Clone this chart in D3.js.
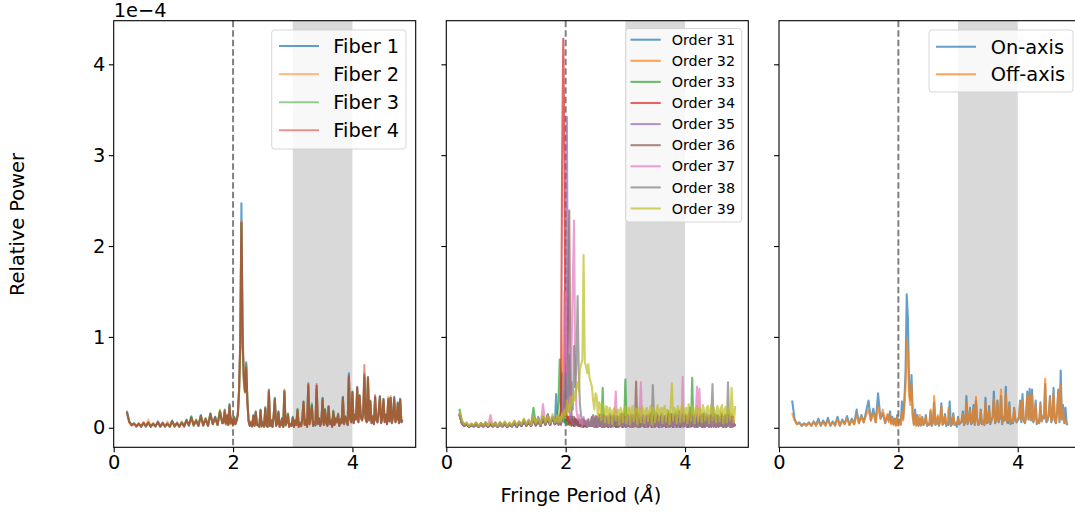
<!DOCTYPE html>
<html lang="en">
  <head>
    <meta charset="UTF-8" />
    <title>fringe period</title>
    <style>
      body {
        margin: 0;
        background: #fff;
      }
      svg text {
        font-family: "DejaVu Sans", sans-serif;
        fill: #000;
      }
    </style>
  </head>
  <body>
    <svg width="1075" height="512"></svg>

    <script src="https://d3js.org/d3.v7.min.js"></script>
    <script>
      // fringe period grid (Å): coarse below the peak, finer above it
      const period = [
        0.22, 0.26, 0.30, 0.34, 0.38, 0.42, 0.46, 0.50, 0.54, 0.58, 0.62, 0.66, 0.70, 0.74, 0.78, 0.82, 0.86, 0.90, 0.94, 0.98, 1.02, 1.06, 1.10, 1.14, 1.18, 1.22, 1.26, 1.30, 1.34, 1.38, 1.42, 1.46, 1.50, 1.54, 1.58, 1.62, 1.66, 1.70, 1.74, 1.78, 1.82,
        1.84, 1.86, 1.88, 1.90, 1.92, 1.94, 1.96, 1.98, 2.00, 2.02, 2.04, 2.06, 2.08, 2.10, 2.12, 2.14, 2.16, 2.18, 2.20, 2.22, 2.24, 2.26, 2.28, 2.30, 2.32, 2.34, 2.36, 2.38, 2.40,
        2.42, 2.44, 2.46, 2.48, 2.50, 2.52, 2.54, 2.56, 2.58, 2.60,
        2.62, 2.64, 2.66, 2.68, 2.70, 2.72, 2.74, 2.76, 2.78, 2.80,
        2.82, 2.84, 2.86, 2.88, 2.90, 2.92, 2.94, 2.96, 2.98, 3.00,
        3.02, 3.04, 3.06, 3.08, 3.10, 3.12, 3.14, 3.16, 3.18, 3.20,
        3.22, 3.24, 3.26, 3.28, 3.30, 3.32, 3.34, 3.36, 3.38, 3.40,
        3.42, 3.44, 3.46, 3.48, 3.50, 3.52, 3.54, 3.56, 3.58, 3.60,
        3.62, 3.64, 3.66, 3.68, 3.70, 3.72, 3.74, 3.76, 3.78, 3.80,
        3.82, 3.84, 3.86, 3.88, 3.90, 3.92, 3.94, 3.96, 3.98, 4.00,
        4.02, 4.04, 4.06, 4.08, 4.10, 4.12, 4.14, 4.16, 4.18, 4.20,
        4.22, 4.24, 4.26, 4.28, 4.30, 4.32, 4.34, 4.36, 4.38, 4.40,
        4.42, 4.44, 4.46, 4.48, 4.50, 4.52, 4.54, 4.56, 4.58, 4.60,
        4.62, 4.64, 4.66, 4.68, 4.70, 4.72, 4.74, 4.76, 4.78, 4.80,
        4.82, 4.84,
      ];

      // relative power, in units of 1e-6
      const fiber1 = [
        18,7,3,5,1,4,2,5,1,6,2,4,1,7,2,5,1,4,2,8,1,5,2,6,1,9,2,12,3,8,2,14,3,10,2,16,4,12,3,18,5,
        6,20,4,14,3,26,5,10,3,12,4,8,15,40,90,247,95,55,40,72,30,8,2,6,1,14,2,18,3,
        3,1,20,2,6,1,22,3,1,42, 2,8,1,12,33,2,5,18,1,3, 10,1,41,3,6,15,1,4,2,12, 1,8,3,20,1,5,2,9,29,3,
        8,1,49,4,12,25,2,6,3,46, 4,10,2,7,33,3,20,5,2,24, 4,8,1,18,3,10,6,15,2,9, 5,34,4,12,8,3,60,10,6,40,
        5,14,9,45,6,36,12,8,15,55, 10,6,56,8,30,5,12,4,34,8, 6,18,35,5,10,32,6,14,4,30, 7,33,5,12,34,6,9,28,5,32, 6,8,
      ];
      const fiber2 = [
        16,6,2,4,2,5,1,6,2,9,1,5,2,6,1,4,2,7,1,6,2,4,1,7,2,8,3,10,2,9,3,12,2,11,3,15,5,10,4,20,6,
        5,18,3,15,4,24,6,12,2,10,5,9,14,38,85,228,90,50,38,68,28,6,3,7,2,12,3,16,4,
        4,1,18,2,5,2,20,3,1,40, 3,7,1,14,30,2,6,16,1,4, 9,2,42,3,5,14,1,5,3,10, 2,9,4,18,2,6,1,8,27,4,
        7,2,47,3,11,22,3,5,4,44, 5,9,3,6,30,4,18,6,3,22, 5,7,2,16,4,11,5,14,3,8, 6,32,5,11,9,4,55,11,7,38,
        6,13,10,43,7,34,11,9,16,60, 9,7,54,9,28,6,13,5,32,9, 7,16,33,6,11,30,7,13,5,34, 8,35,6,11,30,7,10,26,6,30, 7,9,
      ];
      const fiber3 = [
        19,7,3,5,2,4,1,5,2,6,1,4,2,6,1,5,2,4,1,7,2,5,1,6,2,8,3,13,2,9,3,13,2,10,3,15,4,12,3,19,5,
        7,19,5,13,4,25,6,11,3,11,5,9,14,39,88,225,92,52,39,70,29,7,3,5,2,13,3,17,4,
        3,2,19,1,6,2,23,2,2,40, 2,9,1,13,32,3,4,17,2,3, 11,1,40,2,7,16,2,4,3,11, 1,8,5,21,2,5,3,9,28,4,
        9,2,45,5,13,27,3,6,2,42, 5,11,3,7,32,4,21,6,3,23, 5,9,2,19,4,11,7,16,3,10, 6,33,5,13,9,4,55,11,7,39,
        6,15,10,44,7,35,13,9,14,58, 11,7,54,9,29,6,13,5,33,9, 7,17,34,6,11,31,7,15,5,32, 8,33,6,13,31,7,10,27,6,31, 7,9,
      ];
      const fiber4 = [
        17,6,3,4,2,5,1,6,2,5,1,5,2,6,1,6,2,5,1,7,2,6,1,5,2,8,3,11,3,7,2,13,3,9,2,15,4,11,3,17,5,
        6,18,5,13,3,24,4,9,3,11,4,8,14,42,95,226,107,58,40,66,28,8,2,6,2,13,2,17,3,
        2,1,19,2,5,1,21,2,1,40, 2,8,1,12,31,2,5,17,1,3, 10,1,39,3,6,14,1,4,2,11, 1,8,3,19,1,5,2,9,28,3,
        8,1,47,4,12,24,2,6,3,48, 4,10,2,7,31,3,19,5,2,23, 4,8,1,17,3,10,6,14,2,9, 5,33,4,12,8,3,57,10,6,39,
        5,14,9,44,6,35,12,8,15,69, 10,6,55,8,29,5,12,4,36,8, 6,18,34,5,10,31,6,14,4,32, 7,33,5,12,33,6,9,27,5,31, 6,8,
      ];

      const order31 = [
        16,6,3,4,1,3,2,4,1,3,2,5,1,4,2,3,1,5,2,4,1,3,2,6,1,5,2,7,3,6,2,8,3,12,4,9,3,14,5,10,4,
        37,8,12,5,20,60,14,6,10,4,8,3,12,5,9,2,6,3,8,2,5,1,6,2,4,1,5,2,6,
        2,4,10,1,3,2,12,5,2,8, 14,3,1,9,2,5,11,1,4,13, 3,2,8,1,6,12,2,4,10,3, 1,14,2,5,9,3,1,11,4,2,
        15,5,2,8,11,3,1,13,2,6, 9,1,4,12,3,2,14,5,1,10, 3,2,13,4,1,11,2,6,15,3, 2,10,4,1,18,3,5,12,2,4,
        14,1,5,22,3,2,11,4,1,15, 2,6,12,3,1,16,4,2,11,5, 2,14,3,1,10,4,2,12,3,5, 15,2,4,9,1,13,3,2,12,4, 2,3,
      ];
      const order32 = [
        14,5,2,4,1,3,1,4,2,3,1,4,2,5,1,3,2,4,1,5,2,4,1,6,2,4,2,8,3,5,2,9,3,7,2,11,4,8,3,10,4,
        6,12,4,15,5,22,80,150,60,14,6,10,3,8,4,6,2,9,3,7,2,5,1,6,2,8,3,5,2,
        3,12,2,5,10,1,4,15,3,2, 11,4,1,13,2,6,9,1,5,14, 2,3,10,1,5,12,2,3,16,4, 1,11,3,2,13,5,1,9,2,4,
        15,3,1,12,4,2,10,5,1,14, 3,2,11,4,1,16,2,5,12,3, 1,10,4,2,14,3,1,13,5,2, 11,3,1,17,4,2,12,3,5,15,
        2,1,13,4,2,11,5,1,16,3, 2,12,4,1,15,3,2,10,5,1, 14,2,4,11,3,1,13,5,2,17, 3,1,12,4,2,15,3,1,16,4, 2,3,
      ];
      const order33 = [
        21,8,3,5,2,4,1,5,2,4,1,6,2,4,1,5,2,6,1,4,2,5,1,7,2,6,3,9,2,8,3,22,4,10,3,12,4,15,5,11,4,
        10,14,30,75,12,8,20,6,9,3,12,5,8,2,7,3,10,4,6,2,8,3,5,1,7,2,6,3,5,
        4,6,14,2,3,12,1,5,10,4, 44,3,2,10,1,5,15,2,4,11, 3,1,13,2,5,9,1,4,2,53, 3,2,12,4,1,10,3,2,15,5,
        1,9,2,4,14,3,1,11,2,5, 16,3,1,12,2,4,10,1,3,14, 2,5,11,1,3,18,4,2,12,1, 4,16,3,2,10,1,5,14,3,2,
        12,4,1,15,3,55,2,6,14,1, 3,12,2,4,15,1,3,11,2,5, 13,1,3,12,4,2,14,1,3,10, 2,4,12,1,3,14,2,5,10,2, 4,3,
      ];
      const order34 = [
        15,5,2,4,1,3,2,4,1,5,2,3,1,4,2,5,1,3,2,6,1,4,2,5,1,6,2,7,3,5,2,9,3,8,2,10,4,9,3,12,4,
        8,6,10,5,12,290,428,300,20,8,12,4,9,3,7,2,10,4,6,2,8,3,5,1,6,2,7,3,4,
        3,4,12,1,2,10,3,5,14,2, 1,9,4,2,12,1,3,11,5,2, 13,3,1,10,2,4,15,1,3,12, 5,2,9,1,3,14,4,2,11,1,
        3,13,2,5,10,1,3,12,2,4, 15,3,1,11,2,5,13,1,3,10, 4,2,12,1,3,15,2,4,11,1, 5,13,2,3,10,1,4,14,2,3,
        12,1,5,16,3,2,11,1,4,13, 2,3,15,1,5,12,2,3,10,1, 4,14,2,3,11,1,5,12,2,3, 10,1,4,14,2,3,11,1,5,12, 2,3,
      ];
      const order35 = [
        14,6,3,4,1,3,2,5,1,4,2,3,1,5,2,4,1,6,2,3,1,5,2,4,1,7,2,6,3,8,2,10,3,7,2,11,4,9,3,12,4,
        6,10,4,8,3,12,30,60,120,342,80,20,8,12,4,9,3,7,2,10,4,6,2,8,3,5,1,6,2,
        5,12,2,4,11,1,3,13,2,5, 10,1,4,12,3,2,14,1,5,9, 2,3,11,1,4,13,2,5,10,1, 3,12,2,4,15,1,3,11,2,5,
        13,1,3,10,2,4,12,1,5,14, 2,3,11,1,4,16,2,5,12,1, 3,13,2,4,10,1,5,15,2,3, 12,1,4,14,2,3,11,1,5,13,
        2,3,15,1,4,12,2,5,14,1, 3,11,2,4,13,1,5,15,2,3, 12,1,4,10,2,3,14,1,5,12, 2,3,13,1,4,15,2,5,10,1, 3,4,
      ];
      const order36 = [
        15,5,2,4,1,4,2,3,1,5,2,4,1,3,2,6,1,4,2,5,1,3,2,6,1,5,3,8,2,7,3,11,2,8,3,10,4,13,3,11,4,
        5,9,3,12,4,8,14,40,20,60,120,239,50,14,8,12,4,9,3,7,2,6,3,8,2,5,1,7,3,
        4,2,10,3,1,12,5,2,9,1, 3,14,4,2,11,1,5,13,2,3, 10,1,4,12,2,5,15,1,3,11, 2,4,13,1,5,10,2,3,51,4,
        1,11,3,2,13,1,4,10,2,5, 12,1,3,14,2,4,11,1,5,13, 2,3,10,1,4,15,2,5,12,1, 3,14,2,4,11,1,5,13,2,3,
        10,1,4,16,2,3,12,1,5,11, 2,4,14,1,3,10,2,5,13,1, 3,12,2,4,15,1,3,11,2,5, 13,1,4,10,2,3,14,1,5,12, 2,4,
      ];
      const order37 = [
        16,6,3,5,2,4,1,6,2,5,1,4,2,14,1,5,2,4,1,6,2,5,1,7,2,6,3,9,3,7,2,12,4,10,3,26,4,14,3,12,5,
        6,12,4,10,5,14,20,100,150,40,18,60,30,90,160,228,70,20,10,14,5,9,3,12,4,8,2,10,3,
        5,3,13,1,4,11,2,5,14,2, 3,10,1,5,12,2,4,9,3,1, 15,40,3,11,1,5,13,2,4,10, 2,3,12,1,5,14,2,4,11,1,
        3,13,50,2,5,12,1,4,14,3, 2,11,1,5,13,2,4,10,1,3, 15,2,5,12,1,4,11,3,2,14, 1,5,10,2,4,13,3,56,2,11,
        1,5,14,2,4,10,3,1,13,45, 2,43,12,1,5,11,3,2,14,1, 4,10,2,5,13,1,3,12,2,4, 11,1,5,14,2,3,12,1,4,11, 2,3,
      ];
      const order38 = [
        15,5,2,4,1,3,2,5,1,4,2,6,1,3,2,5,1,4,2,5,1,4,2,6,1,5,2,8,3,6,2,9,3,7,2,12,3,10,4,11,4,
        7,10,4,13,5,9,12,30,60,20,40,80,35,50,20,90,45,70,145,60,25,12,8,10,4,7,3,9,2,
        4,11,2,3,13,1,5,10,2,4, 14,1,3,11,2,5,9,1,4,13, 2,3,12,1,5,15,2,4,10,1, 3,14,2,5,11,1,4,13,2,3,
        10,1,5,12,2,4,4,14,1,3, 11,2,47,13,1,4,10,2,3,15, 1,5,12,2,4,11,3,1,14,2, 5,10,1,4,13,2,3,15,1,5,
        12,2,4,11,1,3,14,2,5,10, 1,4,13,2,3,12,1,5,11,2, 4,14,48,3,12,1,5,13,2,4, 10,1,3,14,2,50,4,12,1,3, 5,2,
      ];
      const order39 = [
        18,8,4,6,2,5,3,6,2,5,3,6,2,7,3,5,2,6,3,7,2,6,3,8,3,7,4,10,4,9,3,12,5,11,4,14,6,12,5,15,6,
        8,14,6,12,7,16,10,20,14,30,18,25,20,35,25,40,30,45,50,40,65,70,75,190,72,68,60,70,55,
        50,45,30,20,38,35,12,28,25,8, 26,20,6,24,22,5,22,18,4,20, 22,8,18,20,4,22,18,6,20,24, 5,18,22,4,20,24,7,18,21,4,
        22,20,6,24,18,5,20,22,7,18, 24,4,22,20,6,18,25,8,20,22, 5,22,24,7,20,18,4,25,49,8, 22,20,5,24,18,6,22,25,7,20,
        22,5,26,18,8,24,22,5,20,24, 7,22,20,6,25,18,8,22,24,5, 20,25,8,22,18,6,24,20,7,22, 25,5,20,23,6,22,18,8,44,20, 6,24,
      ];

      const onAxis = [
        30,10,4,6,2,5,3,6,2,7,3,10,2,8,3,11,2,7,3,12,2,9,4,13,3,10,4,20,5,14,6,18,30,8,21,6,38,10,16,5,14,
        8,18,5,12,4,10,3,14,5,9,4,29,10,30,60,147,120,45,30,58,15,4,20,3,14,2,10,3,12,
        3,5,14,2,4,3,18,2,6,28, 3,4,12,2,8,27,3,5,15,2, 6,3,29,2,4,16,3,5,1,12, 4,5,7,18,3,6,35,4,8,22,
        4,6,25,3,30,9,3,5,20,4, 7,3,33,5,6,24,4,8,12,40, 5,8,30,6,10,35,4,12,8,45, 6,5,28,4,8,5,22,9,6,8,
        10,30,6,37,8,5,12,40,9,43, 8,42,6,10,30,4,8,5,28,7, 12,10,48,6,8,14,35,6,10,44, 8,5,18,42,6,63,9,25,5,22, 4,3,
      ];
      const offAxis = [
        16,8,4,5,3,4,2,5,3,6,2,7,3,6,2,8,3,6,2,9,3,7,4,10,3,8,4,14,5,12,6,14,20,8,16,6,24,10,20,6,15,
        6,14,4,10,3,8,2,12,4,7,3,18,8,22,45,97,80,35,25,48,12,3,16,2,12,3,14,2,10,
        4,6,12,3,5,4,20,3,5,35, 4,6,14,3,7,24,4,6,13,3, 7,22,5,3,5,14,4,6,3,10, 5,6,8,15,4,7,28,5,8,20,
        5,10,22,4,34,8,4,6,18,5, 8,4,28,6,7,20,5,9,11,32, 6,9,28,7,12,42,5,12,9,38, 7,8,25,5,9,6,20,10,7,10,
        11,28,8,30,9,6,14,35,10,38, 9,36,7,10,26,5,9,6,25,8, 13,12,54,7,10,16,32,7,11,38, 9,6,20,40,7,47,10,20,6,8, 5,4,
      ];

      const fiberLabels = ["Fiber 1", "Fiber 2", "Fiber 3", "Fiber 4"];
      const orderLabels = ["Order 31", "Order 32", "Order 33", "Order 34", "Order 35", "Order 36", "Order 37", "Order 38", "Order 39"];
      const axisLabels = ["On-axis", "Off-axis"];
      const xTicks = [0, 2, 4];
      const yTicks = [0, 1e-4, 2e-4, 3e-4, 4e-4];

      const tab10 = d3.schemeCategory10;

      // layout
      const svg = d3.select("svg");
      const plotTop = 20.7,
        plotBottom = 447.3,
        plotW = 302;
      const fs = 19.4; // 14pt
      const lw = 2.08; // 1.5pt
      const y = d3.scaleLinear().domain([-0.215e-4, 4.48e-4]).range([plotBottom, plotTop]);

      const panels = [
        {
          left: 113.7,
          series: [fiber1, fiber2, fiber3, fiber4],
          labels: fiberLabels,
          colors: tab10.slice(0, 4),
          alphas: [0.7, 0.5, 0.5, 0.5],
          yLabels: true,
          legend: { x: 271.7, y: 30, w: 134.3, h: 119, row0: 46, step: 28.1, l1: 279, l2: 319, tx: 333.3, fs: fs },
        },
        {
          left: 446.3,
          series: [order31, order32, order33, order34, order35, order36, order37, order38, order39],
          labels: orderLabels,
          colors: tab10.slice(0, 9),
          alphas: d3.range(9).map(() => 0.7),
          yLabels: false,
          legend: { x: 625.7, y: 28.5, w: 116, h: 193.5, row0: 39.7, step: 21.1, l1: 630.5, l2: 660.7, tx: 671.7, fs: 14.3 },
        },
        {
          left: 779,
          series: [onAxis, offAxis],
          labels: axisLabels,
          colors: tab10.slice(0, 2),
          alphas: [0.7, 0.7],
          yLabels: false,
          legend: { x: 929, y: 30, w: 144, h: 62, row0: 46.7, step: 27.5, l1: 936, l2: 976, tx: 990.7, fs: fs },
        },
      ];

      panels.forEach((p, i) => {
        const x = d3.scaleLinear().domain([0, 5.06]).range([p.left, p.left + plotW]);
        const g = svg.append("g");

        g.append("clipPath")
          .attr("id", "clip" + i)
          .append("rect")
          .attr("x", p.left)
          .attr("y", plotTop)
          .attr("width", plotW)
          .attr("height", plotBottom - plotTop);

        // shaded region 3-4 Å
        g.append("rect")
          .attr("x", x(3))
          .attr("y", plotTop)
          .attr("width", x(4) - x(3))
          .attr("height", plotBottom - plotTop)
          .attr("fill", "#d9d9d9");

        // reference line at 2 Å
        g.append("line")
          .attr("x1", x(2))
          .attr("x2", x(2))
          .attr("y1", plotTop)
          .attr("y2", plotBottom)
          .attr("stroke", "#808080")
          .attr("stroke-width", 2)
          .attr("stroke-dasharray", "6.5,3");

        const line = d3
          .line()
          .x((d) => x(d[0]))
          .y((d) => y(d[1]));

        g.append("g")
          .attr("clip-path", `url(#clip${i})`)
          .selectAll("path")
          .data(p.series)
          .join("path")
          .attr("d", (s) => line(s.map((v, k) => [period[k], v * 1e-6]).filter((d) => d[0] !== undefined)))
          .attr("fill", "none")
          .attr("stroke", (s, k) => p.colors[k])
          .attr("stroke-opacity", (s, k) => p.alphas[k])
          .attr("stroke-width", lw)
          .attr("stroke-linejoin", "round");

        // axes
        const xAxis = d3.axisBottom(x).tickValues(xTicks).tickFormat(d3.format("d")).tickSize(4.9).tickPadding(3.5);
        g.append("g")
          .attr("transform", `translate(0,${plotBottom})`)
          .call(xAxis)
          .call((a) => a.select(".domain").remove())
          .attr("font-size", fs)
          .attr("font-family", "DejaVu Sans");

        const yAxis = d3
          .axisLeft(y)
          .tickValues(yTicks)
          .tickFormat((d) => (p.yLabels ? Math.round(d * 1e4) : ""))
          .tickSize(4.9)
          .tickPadding(3.5);
        g.append("g")
          .attr("transform", `translate(${p.left},0)`)
          .call(yAxis)
          .call((a) => a.select(".domain").remove())
          .attr("font-size", fs)
          .attr("font-family", "DejaVu Sans");

        g.selectAll(".tick line").attr("stroke", "#000").attr("stroke-width", 1.1);

        // spines
        g.append("rect")
          .attr("x", p.left)
          .attr("y", plotTop)
          .attr("width", plotW)
          .attr("height", plotBottom - plotTop)
          .attr("fill", "none")
          .attr("stroke", "#000")
          .attr("stroke-width", 1.1);

        // legend
        const L = p.legend;
        const leg = g.append("g");
        leg.append("rect")
          .attr("x", L.x)
          .attr("y", L.y)
          .attr("width", L.w)
          .attr("height", L.h)
          .attr("rx", 3)
          .attr("fill", "#fff")
          .attr("fill-opacity", 0.8)
          .attr("stroke", "#ccc")
          .attr("stroke-opacity", 0.8);

        const row = leg
          .selectAll("g.row")
          .data(p.labels)
          .join("g")
          .attr("class", "row")
          .attr("transform", (d, k) => `translate(0,${L.row0 + k * L.step})`);
        row.append("line")
          .attr("x1", L.l1)
          .attr("x2", L.l2)
          .attr("stroke", (d, k) => p.colors[k])
          .attr("stroke-opacity", (d, k) => p.alphas[k])
          .attr("stroke-width", lw);
        row.append("text")
          .attr("x", L.tx)
          .attr("dy", "0.36em")
          .attr("font-size", L.fs)
          .text((d) => d);
      });

      // offset text and shared labels
      svg.append("text").attr("x", 113.7).attr("y", 17).attr("font-size", fs).text("1e\u22124");

      svg.append("text")
        .attr("transform", "translate(24,224.5) rotate(-90)")
        .attr("text-anchor", "middle")
        .attr("font-size", fs)
        .text("Relative Power");

      const xl = svg.append("text").attr("x", 581).attr("y", 502).attr("text-anchor", "middle").attr("font-size", fs);
      xl.append("tspan").text("Fringe Period (");
      xl.append("tspan").attr("font-style", "italic").text("Å");
      xl.append("tspan").text(")");
    </script>
  </body>
</html>
